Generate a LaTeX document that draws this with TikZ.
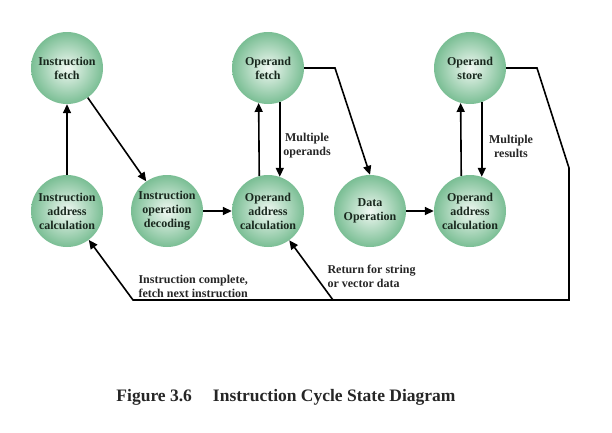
\documentclass[tikz,border=0pt]{standalone}
\usepackage{fontspec}
\setmainfont{Liberation Serif}
\usetikzlibrary{arrows.meta,shadings}
\definecolor{stout}{RGB}{122,190,148}
\definecolor{stin}{RGB}{240,248,242}
\definecolor{sttext}{RGB}{25,40,30}
\begin{document}
\begin{tikzpicture}[x=1pt,y=-1pt,
 state/.style={circle, minimum size=72pt, inner sep=0pt, shading=radial, inner color=stin, outer color=stout, font=\bfseries\fontsize{12}{14}\selectfont, align=center, text=sttext},
 arr/.style={line width=1.6pt, -{Triangle[width=8pt,length=9pt]}},
 ln/.style={line width=1.6pt},
 lbl/.style={font=\bfseries\fontsize{12}{14}\selectfont, text=black!85}
]
\useasboundingbox (0,0) rectangle (612,432);
\node[state] (ifetch) at (67,68) {Instruction\\fetch};
\node[state] (ofetch) at (268,68) {Operand\\fetch};
\node[state] (ostore) at (470,68) {Operand\\store};
\node[state] (iac) at (67,211) {Instruction\\address\\calculation};
\node[state] (iod) at (167,211) {Instruction\\operation\\decoding};
\node[state] (oac1) at (268,211) {Operand\\address\\calculation};
\node[state] (dop) at (370,211) {Data\\Operation};
\node[state] (oac2) at (470,211) {Operand\\address\\calculation};

\draw[arr] (iac.north) -- (ifetch.south);
\draw[arr] (ifetch.-55) -- (iod.125);
\draw[arr] (iod.east) -- (oac1.west);
\draw[arr] (oac1.104.5) -- (ofetch.255.5);
\draw[arr] (ofetch.-71) -- (oac1.71);
\node[lbl, align=center] (mo) at (307,146) {Multiple\\operands};
\coordinate (b1) at (335,68);
\draw[arr] (ofetch.east) -- (b1) -- (dop.north);
\draw[arr] (dop.east) -- (oac2.west);
\draw[arr] (oac2.104.5) -- (ostore.255.5);
\draw[arr] (ostore.-71) -- (oac2.71);
\node[lbl, align=center] (mr) at (511,146) {Multiple\\results};

\coordinate (s1) at (537,68);
\coordinate (s2) at (569,168);
\coordinate (s3) at (569,300);
\coordinate (s4) at (333,300);
\coordinate (s5) at (133,300);
\draw[ln, line join=miter] (ostore.east) -- (s1) -- (s2) -- (s3) -- (s4);
\draw[arr] (s4) -- (s5) -- (iac.-53);
\draw[arr] (s4) -- (oac1.-54);
\node[lbl, align=left, anchor=west] (lc) at (135,286) {Instruction complete,\\fetch next instruction};
\node[lbl, align=left, anchor=west] (lr) at (324,276) {Return for string\\or vector data};

\node[font=\bfseries\fontsize{17.5}{20}\selectfont, text=black!85] (cap) at (286,397) {Figure 3.6\hspace{1.2em}Instruction Cycle State Diagram};
\end{tikzpicture}
\end{document}
